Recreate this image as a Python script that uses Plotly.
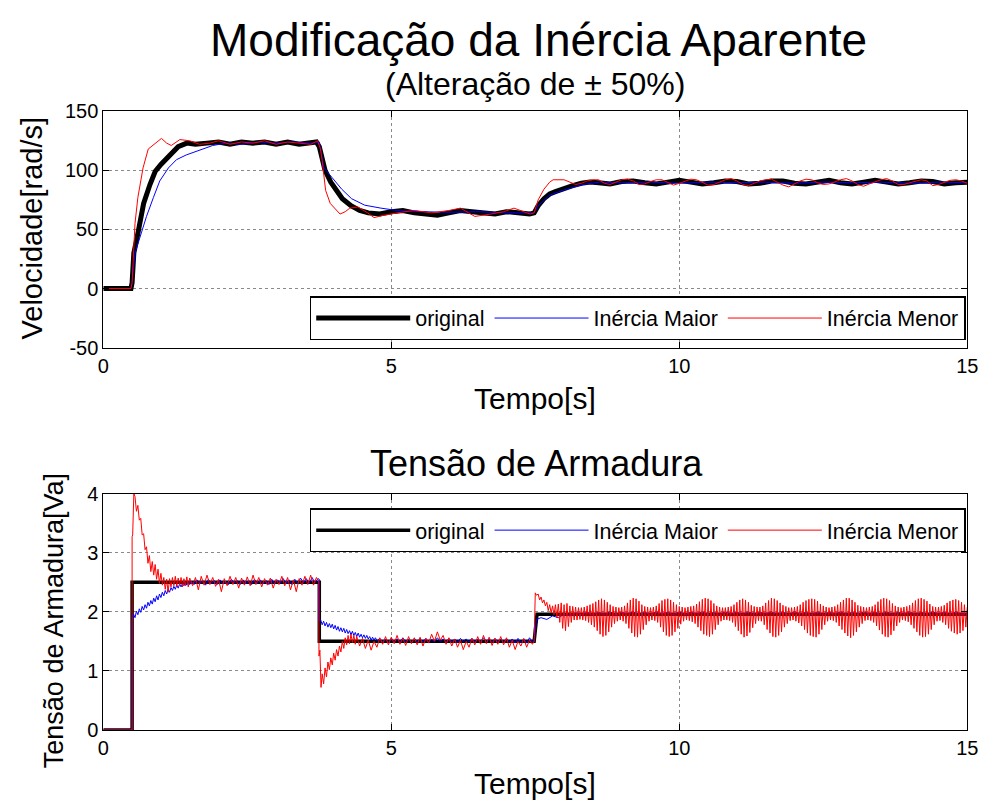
import plotly.graph_objects as go

FONT = "Liberation Sans, Arial, sans-serif"

# ---------------- Top plot: Velocidade [rad/s] ----------------
orig_top_t = [0, 0.48, 0.50, 0.53, 0.59, 0.64, 0.70, 0.81, 0.90, 1.00,
              1.10, 1.20, 1.30, 1.45, 1.6, 1.8, 2.0, 2.2, 2.4, 2.6,
              2.8, 3.0, 3.2, 3.4, 3.6, 3.70, 3.75, 3.80, 3.85, 3.95,
              4.05, 4.15, 4.30, 4.45, 4.6, 4.8, 5.0, 5.2, 5.4, 5.6,
              5.8, 6.0, 6.2, 6.4, 6.6, 6.8, 7.0, 7.2, 7.4, 7.48,
              7.55, 7.65, 7.75, 7.85, 8.0, 8.15, 8.3, 8.45]
orig_top_v = [0, 0, 5, 30, 44, 58, 72, 88, 99, 105,
              110, 116, 120, 123, 122, 123, 124, 122, 124, 123,
              124, 122, 124, 122, 123, 124, 120, 108, 100, 90,
              82, 76, 70, 66, 64, 63, 65, 66, 64, 63,
              62, 64, 66, 65, 64, 63, 65, 64, 63, 64,
              70, 76, 80, 82, 85, 87, 89, 90]
orig_top_ss_t0, orig_top_ss_dt = 8.6, 0.2
orig_top_ss = [89.5, 88.5, 90.5, 91.0, 89.5, 88.5, 90.0, 91.5, 90.0, 88.5,
               89.5, 91.0, 90.5, 88.5, 89.0, 91.0, 91.0, 89.0, 88.5, 90.5,
               91.5, 89.5, 88.5, 90.0, 91.5, 90.0, 88.5, 89.5, 91.0, 90.5,
               88.5, 89.5, 90.0]

maior_top_t = [0, 0.48, 0.50, 0.55, 0.66, 0.75, 0.87, 0.98, 1.13, 1.27,
               1.44, 1.67, 1.90, 2.13, 2.4, 2.7, 3.0, 3.3, 3.6, 3.75,
               3.80, 3.83, 3.97, 4.14, 4.31, 4.54, 4.82, 5.1, 5.5, 6.0,
               6.5, 7.0, 7.48, 7.55, 7.75, 8.04, 8.33, 8.61, 9.0, 9.5,
               10.0, 10.5, 11.0, 11.5, 12.0, 12.5, 13.0, 13.5, 14.0, 14.5, 15.0]
maior_top_v = [0, 0, 5, 30, 47, 61, 77, 91, 102, 109,
               113, 117, 121, 123, 122, 124, 123, 124, 123, 124,
               112, 102, 94, 84, 76, 70.5, 68, 66, 65, 64.5,
               65, 64, 64, 70, 79, 84, 88, 90, 89.5, 90,
               89, 90, 89.5, 90, 89, 90, 89.5, 90, 89, 90, 89.5]

menor_top_t = [0, 0.48, 0.50, 0.55, 0.60, 0.69, 0.78, 0.90, 1.01, 1.10,
               1.18, 1.33, 1.50, 1.67, 1.85, 2.0, 2.2, 2.4, 2.6, 2.8,
               3.0, 3.2, 3.4, 3.6, 3.72, 3.77, 3.80, 3.83, 3.86, 3.94,
               4.03, 4.11, 4.20, 4.28, 4.42, 4.59, 4.70, 4.87, 5.1, 5.4,
               5.7, 6.0, 6.2, 6.45, 6.73, 6.95, 7.13, 7.41, 7.48, 7.55,
               7.65, 7.75, 7.81, 7.9]
menor_top_v = [0, 0, 5, 55, 77, 102, 118, 123, 127, 123,
               121, 126, 125, 122, 123, 125, 122, 124, 123, 125,
               122, 124, 123, 122, 125, 118, 108, 94, 83, 72,
               67, 63, 65, 68, 69, 64, 60, 62, 64, 66,
               64, 66, 68, 61, 63, 65, 68, 63, 64, 75,
               84, 90, 92, 92]
menor_top_ss_t0, menor_top_ss_dt = 8.0, 0.1
menor_top_ss = [92, 90, 88, 89, 91, 92, 92, 89, 88, 90,
                92, 92.5, 91, 88, 88.5, 90.5, 92, 92, 90, 87.5,
                89, 91, 92.5, 92, 90, 87.5, 88, 90, 92, 93,
                91, 88, 87, 89, 91, 92, 92.5, 90, 87.5, 86,
                88.5, 91, 92.5, 92, 89.5, 88, 88.5, 90.5, 92, 93,
                91, 88, 86.5, 88.5, 90.5, 92, 93, 91, 88, 88,
                89.5, 91, 92, 91, 87, 88, 90, 91.5, 92, 91,
                89]

top_ticks = [-50, 0, 50, 100, 150]
top_tick_labels = ["-50", "0", "50", "100", "150"]

# ---------------- Bottom plot: Tensão de Armadura [Va] ----------------
orig_bot_t = [0, 0.5, 0.5, 3.75, 3.75, 7.48, 7.53, 15.0]
orig_bot_v = [0, 0, 2.5, 2.5, 1.5, 1.5, 1.96, 1.96]

maior_bot_a_t = [0, 0.5, 0.5]
maior_bot_a_v = [0, 0, 1.85]
maior_bot_b_t0, maior_bot_b_dt = 0.525, 0.025
maior_bot_b = [1.96, 1.90, 2.01, 1.95, 2.05, 1.99, 2.09, 2.03, 2.12, 2.06,
               2.16, 2.10, 2.19, 2.13, 2.23, 2.17, 2.27, 2.20, 2.30, 2.24,
               2.33, 2.27, 2.36, 2.30, 2.38, 2.33, 2.41, 2.36, 2.43, 2.38,
               2.45, 2.40, 2.47, 2.42, 2.48, 2.44, 2.50, 2.45, 2.51, 2.46]
maior_bot_c_t0, maior_bot_c_dt = 1.525, 0.05
maior_bot_c = [2.52, 2.46, 2.54, 2.47, 2.53, 2.45, 2.55, 2.47, 2.53, 2.46,
               2.54, 2.47, 2.52, 2.46, 2.55, 2.48, 2.53, 2.46, 2.54, 2.47,
               2.53, 2.46, 2.55, 2.48, 2.54, 2.47, 2.53, 2.46, 2.55, 2.47,
               2.54, 2.48, 2.56, 2.47, 2.54, 2.46, 2.55, 2.48, 2.57, 2.49,
               2.56, 2.48, 2.58, 2.49, 2.56]
maior_bot_d_t = [3.75, 3.755]
maior_bot_d_v = [2.55, 1.85]
maior_bot_e_t0, maior_bot_e_dt = 3.775, 0.025
maior_bot_e = [1.86, 1.78, 1.84, 1.76, 1.82, 1.74, 1.80, 1.73, 1.79, 1.71,
               1.77, 1.69, 1.75, 1.67, 1.73, 1.66, 1.72, 1.64, 1.70, 1.63,
               1.68, 1.61, 1.67, 1.60, 1.65, 1.58, 1.64, 1.57, 1.62, 1.56,
               1.61, 1.55, 1.60, 1.54, 1.58, 1.52, 1.57, 1.52, 1.56, 1.51]
maior_bot_f_t0, maior_bot_f_dt = 4.8, 0.05
maior_bot_f = [1.55, 1.49, 1.54, 1.48, 1.55, 1.50, 1.54, 1.48, 1.56, 1.49,
               1.54, 1.48, 1.55, 1.50, 1.54, 1.49, 1.55, 1.48, 1.54, 1.49,
               1.56, 1.50, 1.54, 1.48, 1.55, 1.49, 1.54, 1.48, 1.55, 1.50,
               1.54, 1.49, 1.55, 1.48, 1.54, 1.49, 1.56, 1.50, 1.54, 1.48,
               1.55, 1.49, 1.54, 1.48, 1.55, 1.49, 1.54, 1.47, 1.55, 1.48,
               1.54, 1.47, 1.56, 1.49]
maior_bot_g_t = [7.48, 7.52]
maior_bot_g_v = [1.50, 1.87]
maior_bot_h_t0, maior_bot_h_dt = 7.6, 0.1
maior_bot_h = [1.90, 1.87, 1.93, 1.90, 1.96, 1.93, 1.98, 1.95, 1.99, 1.95,
               1.99, 1.95, 2.00, 1.95, 1.99, 1.96, 2.00, 1.95, 1.99, 1.95,
               2.00, 1.96, 1.99, 1.95, 2.00, 1.95, 1.99, 1.96, 2.00, 1.95,
               1.99, 1.95, 2.00, 1.96, 1.99, 1.95, 2.00, 1.95, 1.99, 1.96,
               2.00, 1.95, 1.99, 1.95, 2.00, 1.96, 1.99, 1.95, 2.00, 1.95,
               1.99, 1.96, 2.00, 1.95, 1.99, 1.95, 2.00, 1.96, 1.99, 1.95,
               2.00, 1.95, 1.99, 1.96, 2.00, 1.95, 1.99, 1.95, 2.00, 1.96,
               1.99, 1.95, 2.00, 1.95, 1.98]

menor_bot_a_t = [0, 0.5, 0.5, 0.51, 0.53]
menor_bot_a_v = [0, 0, 3.27, 3.30, 4.00]
menor_bot_b_t0, menor_bot_b_dt = 0.55, 0.025
menor_bot_b = [3.95, 3.70, 3.80, 3.55, 3.58, 3.30, 3.32, 3.05, 3.10, 2.82,
               2.95, 2.68, 2.85, 2.62, 2.80, 2.55, 2.72, 2.48, 2.65, 2.45,
               2.58, 2.38, 2.55, 2.33, 2.56, 2.42, 2.58, 2.44, 2.60, 2.43,
               2.57, 2.45, 2.58, 2.42, 2.56, 2.44, 2.59, 2.42, 2.57]
menor_bot_c_t0, menor_bot_c_dt = 1.55, 0.05
menor_bot_c = [2.44, 2.58, 2.37, 2.60, 2.45, 2.62, 2.46, 2.58, 2.43, 2.55,
               2.34, 2.56, 2.44, 2.60, 2.46, 2.58, 2.40, 2.57, 2.45, 2.59,
               2.44, 2.62, 2.46, 2.58, 2.42, 2.56, 2.45, 2.57, 2.40, 2.55,
               2.46, 2.60, 2.44, 2.58, 2.37, 2.54, 2.34, 2.56, 2.45, 2.60,
               2.46, 2.62, 2.45, 2.58]
menor_bot_d_t = [3.74, 3.745, 3.76, 3.78]
menor_bot_d_v = [2.52, 1.25, 1.35, 0.72]
menor_bot_e_t0, menor_bot_e_dt = 3.8, 0.025
menor_bot_e = [0.95, 0.78, 1.05, 0.90, 1.15, 1.02, 1.22, 1.10, 1.30, 1.18,
               1.36, 1.25, 1.42, 1.32, 1.50, 1.38, 1.56, 1.44, 1.60, 1.46,
               1.62, 1.48, 1.60, 1.45, 1.58]
menor_bot_f_t0, menor_bot_f_dt = 4.45, 0.05
menor_bot_f = [1.42, 1.55, 1.38, 1.52, 1.35, 1.50, 1.40, 1.56, 1.45, 1.58,
               1.44, 1.57, 1.46, 1.60, 1.45, 1.55, 1.43, 1.58, 1.46, 1.56,
               1.44, 1.57, 1.42, 1.55, 1.47, 1.62, 1.50, 1.66, 1.52, 1.60,
               1.45, 1.56, 1.42, 1.54, 1.40, 1.52, 1.36, 1.50, 1.40, 1.55,
               1.44, 1.58, 1.45, 1.60, 1.46, 1.57, 1.43, 1.55, 1.45, 1.58,
               1.44, 1.56, 1.40, 1.52, 1.36, 1.50, 1.42, 1.55, 1.40, 1.52,
               1.45]
menor_bot_g_t = [7.48, 7.50, 7.52]
menor_bot_g_v = [1.50, 2.32, 2.28]
menor_bot_h_t0, menor_bot_h_dt = 7.55, 0.025
menor_bot_h = [2.30, 2.20, 2.25, 2.15, 2.20, 2.10, 2.16, 2.02, 2.12, 1.98]
menor_bot_i_t0, menor_bot_i_dt = 7.8, 0.025
menor_bot_i = [
    2.10, 1.95, 2.12, 1.90, 2.13, 1.82, 2.15, 1.72, 2.12, 1.68, 2.14, 1.75, 2.10, 1.82, 2.09, 1.86, 2.08, 1.86, 2.07, 1.87,
    2.07, 1.86, 2.08, 1.85, 2.10, 1.82, 2.12, 1.78, 2.14, 1.74, 2.17, 1.68, 2.20, 1.62, 2.22, 1.58, 2.20, 1.60, 2.16, 1.66,
    2.12, 1.74, 2.09, 1.80, 2.08, 1.84, 2.07, 1.86, 2.08, 1.84, 2.10, 1.80, 2.15, 1.72, 2.20, 1.64, 2.23, 1.58, 2.22, 1.57,
    2.18, 1.62, 2.12, 1.70, 2.09, 1.78, 2.08, 1.84, 2.07, 1.86, 2.08, 1.85, 2.10, 1.82, 2.14, 1.74, 2.19, 1.66, 2.21, 1.60,
    2.22, 1.58, 2.20, 1.60, 2.16, 1.66, 2.12, 1.72, 2.09, 1.79, 2.08, 1.84, 2.07, 1.86, 2.08, 1.85, 2.09, 1.83, 2.10, 1.80,
    2.13, 1.74, 2.17, 1.68, 2.21, 1.62, 2.23, 1.60, 2.22, 1.58, 2.19, 1.62, 2.14, 1.70, 2.10, 1.78, 2.08, 1.84, 2.07, 1.86,
    2.07, 1.86, 2.08, 1.85, 2.09, 1.82, 2.12, 1.75, 2.16, 1.68, 2.20, 1.62, 2.22, 1.57, 2.20, 1.59, 2.16, 1.65, 2.11, 1.73,
    2.09, 1.80, 2.08, 1.85, 2.08, 1.84, 2.10, 1.78, 2.15, 1.70, 2.19, 1.64, 2.23, 1.58, 2.22, 1.57, 2.19, 1.60, 2.15, 1.66,
    2.11, 1.74, 2.09, 1.80, 2.07, 1.85, 2.07, 1.86, 2.08, 1.84, 2.09, 1.81, 2.12, 1.76, 2.16, 1.70, 2.19, 1.64, 2.21, 1.60,
    2.22, 1.58, 2.21, 1.57, 2.18, 1.62, 2.13, 1.70, 2.10, 1.78, 2.08, 1.84, 2.07, 1.86, 2.08, 1.85, 2.09, 1.82, 2.12, 1.76,
    2.16, 1.70, 2.20, 1.64, 2.23, 1.59, 2.23, 1.56, 2.20, 1.60, 2.16, 1.66, 2.11, 1.74, 2.09, 1.80, 2.08, 1.85, 2.07, 1.86,
    2.08, 1.85, 2.09, 1.82, 2.12, 1.76, 2.17, 1.69, 2.21, 1.62, 2.23, 1.58, 2.22, 1.57, 2.19, 1.61, 2.14, 1.68, 2.10, 1.76,
    2.08, 1.82, 2.07, 1.86, 2.08, 1.85, 2.09, 1.83, 2.11, 1.78, 2.15, 1.72, 2.19, 1.66, 2.22, 1.60, 2.23, 1.57, 2.21, 1.58,
    2.18, 1.62, 2.13, 1.70, 2.09, 1.78, 2.08, 1.84, 2.08, 1.85, 2.09, 1.82, 2.11, 1.78, 2.15, 1.72, 2.18, 1.67, 2.20, 1.64,
    2.21, 1.62, 2.19, 1.64, 2.16, 1.68, 2.12, 1.74, 2.08]

bot_ticks = [0, 1, 2, 3, 4]
x_ticks = [0, 5, 10, 15]

series_names = ["original", "Inércia Maior", "Inércia Menor"]
series_colors = ["#000000", "#0000ff", "#ff0000"]


def grid(t0, dt, vals):
    return [round(t0 + i * dt, 4) for i in range(len(vals))]


def join(*parts):
    ts, vs = [], []
    for t, v in parts:
        assert len(t) == len(v)
        ts += list(t)
        vs += list(v)
    return ts, vs


orig_top = join((orig_top_t, orig_top_v),
                (grid(orig_top_ss_t0, orig_top_ss_dt, orig_top_ss), orig_top_ss))
maior_top = join((maior_top_t, maior_top_v))
menor_top = join((menor_top_t, menor_top_v),
                 (grid(menor_top_ss_t0, menor_top_ss_dt, menor_top_ss), menor_top_ss))

orig_bot = join((orig_bot_t, orig_bot_v))
maior_bot = join((maior_bot_a_t, maior_bot_a_v),
                 (grid(maior_bot_b_t0, maior_bot_b_dt, maior_bot_b), maior_bot_b),
                 (grid(maior_bot_c_t0, maior_bot_c_dt, maior_bot_c), maior_bot_c),
                 (maior_bot_d_t, maior_bot_d_v),
                 (grid(maior_bot_e_t0, maior_bot_e_dt, maior_bot_e), maior_bot_e),
                 (grid(maior_bot_f_t0, maior_bot_f_dt, maior_bot_f), maior_bot_f),
                 (maior_bot_g_t, maior_bot_g_v),
                 (grid(maior_bot_h_t0, maior_bot_h_dt, maior_bot_h), maior_bot_h))
menor_bot = join((menor_bot_a_t, menor_bot_a_v),
                 (grid(menor_bot_b_t0, menor_bot_b_dt, menor_bot_b), menor_bot_b),
                 (grid(menor_bot_c_t0, menor_bot_c_dt, menor_bot_c), menor_bot_c),
                 (menor_bot_d_t, menor_bot_d_v),
                 (grid(menor_bot_e_t0, menor_bot_e_dt, menor_bot_e), menor_bot_e),
                 (grid(menor_bot_f_t0, menor_bot_f_dt, menor_bot_f), menor_bot_f),
                 (menor_bot_g_t, menor_bot_g_v),
                 (grid(menor_bot_h_t0, menor_bot_h_dt, menor_bot_h), menor_bot_h),
                 (grid(menor_bot_i_t0, menor_bot_i_dt, menor_bot_i), menor_bot_i))

fig = go.Figure()
widths_top = [5, 1, 1]
widths_bot = [3.5, 1, 1]
for (t, v), name, col, w in zip([orig_top, maior_top, menor_top], series_names, series_colors, widths_top):
    fig.add_trace(go.Scatter(x=t, y=v, mode="lines", name=name,
                             line=dict(color=col, width=w),
                             xaxis="x", yaxis="y", legend="legend"))
for (t, v), name, col, w in zip([orig_bot, maior_bot, menor_bot], series_names, series_colors, widths_bot):
    fig.add_trace(go.Scatter(x=t, y=v, mode="lines", name=name,
                             line=dict(color=col, width=w),
                             xaxis="x2", yaxis="y2", legend="legend2"))

W, H = 994, 812


def fx(px):
    return px / W


def fy(py):
    return 1 - py / H


xd = [fx(99), fx(978)]
top_d = [fy(346), fy(103)]
bot_d = [fy(739), fy(496)]

axis_common = dict(showline=True, linecolor="black", linewidth=1, mirror="ticks",
                   ticks="inside", ticklen=6, tickcolor="black",
                   showgrid=True, gridcolor="#8a8a8a", griddash="dot", gridwidth=1,
                   zeroline=False, tickfont=dict(family=FONT, size=20, color="black"))

legend_common = dict(orientation="h", xanchor="left", yanchor="top",
                     bordercolor="black", borderwidth=1.5, bgcolor="white",
                     font=dict(family=FONT, size=21.5, color="black"),
                     itemwidth=94, tracegroupgap=0)

fig.update_layout(
    width=W, height=H, margin=dict(l=0, r=0, t=0, b=0),
    paper_bgcolor="white", plot_bgcolor="white",
    font=dict(family=FONT, color="black"),
    xaxis=dict(domain=xd, range=[0, 15], anchor="y", tickvals=x_ticks, **axis_common),
    yaxis=dict(domain=top_d, range=[-50, 150], anchor="x", tickvals=top_ticks,
               ticktext=top_tick_labels, **axis_common),
    xaxis2=dict(domain=xd, range=[0, 15], anchor="y2", tickvals=x_ticks, **axis_common),
    yaxis2=dict(domain=bot_d, range=[0, 4], anchor="x2", tickvals=bot_ticks, **axis_common),
    legend=dict(x=fx(309), y=fy(293), **legend_common),
    legend2=dict(x=fx(309), y=fy(511), **legend_common),
)


def ann(text, xpx, ypx, size, angle=0):
    fig.add_annotation(text=text, xref="paper", yref="paper", x=fx(xpx), y=fy(ypx),
                       xanchor="center", yanchor="middle", showarrow=False, textangle=angle,
                       font=dict(family=FONT, size=size, color="black"))


ann("Modificação da Inércia Aparente", 542, 30, 46)
ann("(Alteração de ± 50%)", 538, 75, 32)
ann("Tempo[s]", 538, 398, 30)
ann("Velocidade[rad/s]", 26, 224, 29, -90)
ann("Tensão de Armadura", 540, 465, 36)
ann("Tempo[s]", 538, 794, 30)
ann("Tensão de Armadura[Va]", 49, 627, 27, -90)

fig.write_html("out.html")
